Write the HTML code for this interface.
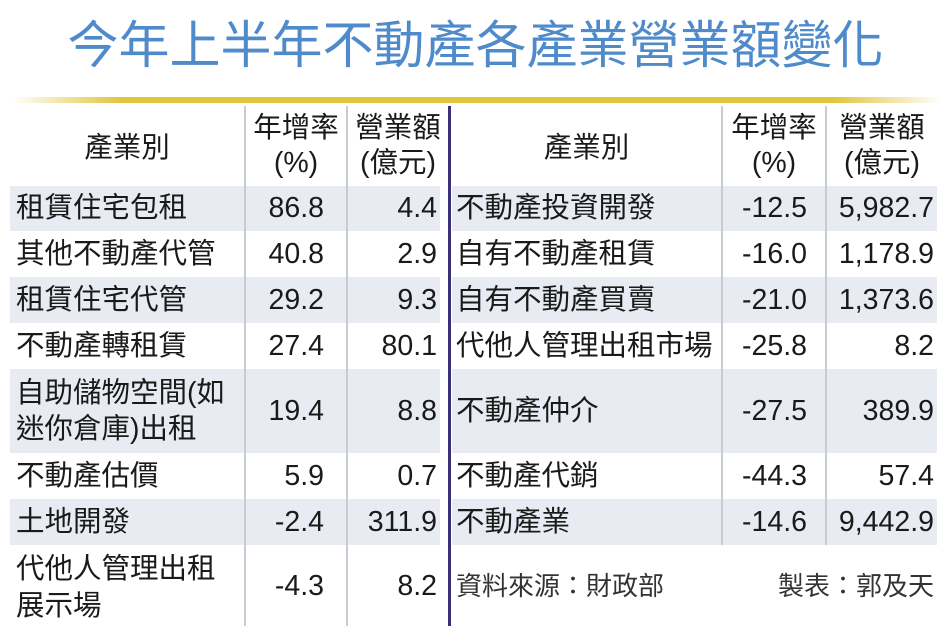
<!DOCTYPE html>
<html><head><meta charset="utf-8"><style>
*{margin:0;padding:0;box-sizing:border-box}
body{width:951px;height:626px;background:#fff;position:relative;overflow:hidden;font-family:"Liberation Sans","Noto Sans CJK TC",sans-serif;color:#1a1a1a}
.t{position:absolute;font-size:28.5px;line-height:30px;white-space:nowrap}
.r{text-align:right}
.c{text-align:center}
.h{line-height:35px}
.sh{position:absolute;background:#e8ecf2}
.vl{position:absolute;width:2px;background:#c8ccd2}
</style></head><body>
<div class="t" style="left:0;width:951px;top:16px;font-size:51px;line-height:60px;color:#4f8bcb;text-align:center">今年上半年不動產各產業營業額變化</div>
<div style="position:absolute;left:12px;top:97px;width:930px;height:6px;background:linear-gradient(to right,#fff,#e0c43a 12%,#e0c43a 88%,#fff)"></div>

<div class="sh" style="left:10px;top:186px;width:430px;height:45px"></div>
<div class="sh" style="left:10px;top:277px;width:430px;height:46px"></div>
<div class="sh" style="left:10px;top:369px;width:430px;height:84px"></div>
<div class="sh" style="left:10px;top:499px;width:430px;height:46px"></div>
<div class="sh" style="left:452px;top:186px;width:485px;height:45px"></div>
<div class="sh" style="left:452px;top:277px;width:485px;height:46px"></div>
<div class="sh" style="left:452px;top:369px;width:485px;height:84px"></div>
<div class="sh" style="left:452px;top:499px;width:485px;height:46px"></div>

<div class="vl" style="left:244px;top:106px;height:520px"></div>
<div class="vl" style="left:346px;top:106px;height:520px"></div>
<div class="vl" style="left:721px;top:106px;height:439px"></div>
<div class="vl" style="left:825px;top:106px;height:439px"></div>
<div style="position:absolute;left:448px;top:106px;width:3px;height:520px;background:#3b2f78"></div>

<div class="t c" style="left:10px;width:234px;top:133px">產業別</div>
<div class="t c h" style="left:246px;width:100px;top:111px">年增率<br>(%)</div>
<div class="t c h" style="left:348px;width:100px;top:111px">營業額<br>(億元)</div>
<div class="t c" style="left:452px;width:269px;top:133px">產業別</div>
<div class="t c h" style="left:723px;width:102px;top:111px">年增率<br>(%)</div>
<div class="t c h" style="left:827px;width:110px;top:111px">營業額<br>(億元)</div>

<div class="t" style="left:16px;top:193px">租賃住宅包租</div><div class="t r" style="left:246px;width:78px;top:193px">86.8</div><div class="t r" style="left:348px;width:89px;top:193px">4.4</div>
<div class="t" style="left:16px;top:239px">其他不動產代管</div><div class="t r" style="left:246px;width:78px;top:239px">40.8</div><div class="t r" style="left:348px;width:89px;top:239px">2.9</div>
<div class="t" style="left:16px;top:285px">租賃住宅代管</div><div class="t r" style="left:246px;width:78px;top:285px">29.2</div><div class="t r" style="left:348px;width:89px;top:285px">9.3</div>
<div class="t" style="left:16px;top:331px">不動產轉租賃</div><div class="t r" style="left:246px;width:78px;top:331px">27.4</div><div class="t r" style="left:348px;width:89px;top:331px">80.1</div>
<div class="t" style="left:16px;top:375px;line-height:36px">自助儲物空間(如<br>迷你倉庫)出租</div><div class="t r" style="left:246px;width:78px;top:396px">19.4</div><div class="t r" style="left:348px;width:89px;top:396px">8.8</div>
<div class="t" style="left:16px;top:461px">不動產估價</div><div class="t r" style="left:246px;width:78px;top:461px">5.9</div><div class="t r" style="left:348px;width:89px;top:461px">0.7</div>
<div class="t" style="left:16px;top:507px">土地開發</div><div class="t r" style="left:246px;width:78px;top:507px">-2.4</div><div class="t r" style="left:348px;width:89px;top:507px">311.9</div>
<div class="t" style="left:16px;top:551px;line-height:37px">代他人管理出租<br>展示場</div><div class="t r" style="left:246px;width:78px;top:571px">-4.3</div><div class="t r" style="left:348px;width:89px;top:571px">8.2</div>

<div class="t" style="left:456px;top:193px">不動產投資開發</div><div class="t r" style="left:723px;width:84px;top:193px">-12.5</div><div class="t r" style="left:827px;width:107px;top:193px">5,982.7</div>
<div class="t" style="left:456px;top:239px">自有不動產租賃</div><div class="t r" style="left:723px;width:84px;top:239px">-16.0</div><div class="t r" style="left:827px;width:107px;top:239px">1,178.9</div>
<div class="t" style="left:456px;top:285px">自有不動產買賣</div><div class="t r" style="left:723px;width:84px;top:285px">-21.0</div><div class="t r" style="left:827px;width:107px;top:285px">1,373.6</div>
<div class="t" style="left:456px;top:331px">代他人管理出租市場</div><div class="t r" style="left:723px;width:84px;top:331px">-25.8</div><div class="t r" style="left:827px;width:107px;top:331px">8.2</div>
<div class="t" style="left:456px;top:396px">不動產仲介</div><div class="t r" style="left:723px;width:84px;top:396px">-27.5</div><div class="t r" style="left:827px;width:107px;top:396px">389.9</div>
<div class="t" style="left:456px;top:461px">不動產代銷</div><div class="t r" style="left:723px;width:84px;top:461px">-44.3</div><div class="t r" style="left:827px;width:107px;top:461px">57.4</div>
<div class="t" style="left:456px;top:507px">不動產業</div><div class="t r" style="left:723px;width:84px;top:507px">-14.6</div><div class="t r" style="left:827px;width:107px;top:507px">9,442.9</div>
<div class="t" style="left:456px;top:571px;font-size:26px;color:#333">資料來源：財政部</div>
<div class="t r" style="left:700px;width:234px;top:571px;font-size:26px;color:#333">製表：郭及天</div>
</body></html>
